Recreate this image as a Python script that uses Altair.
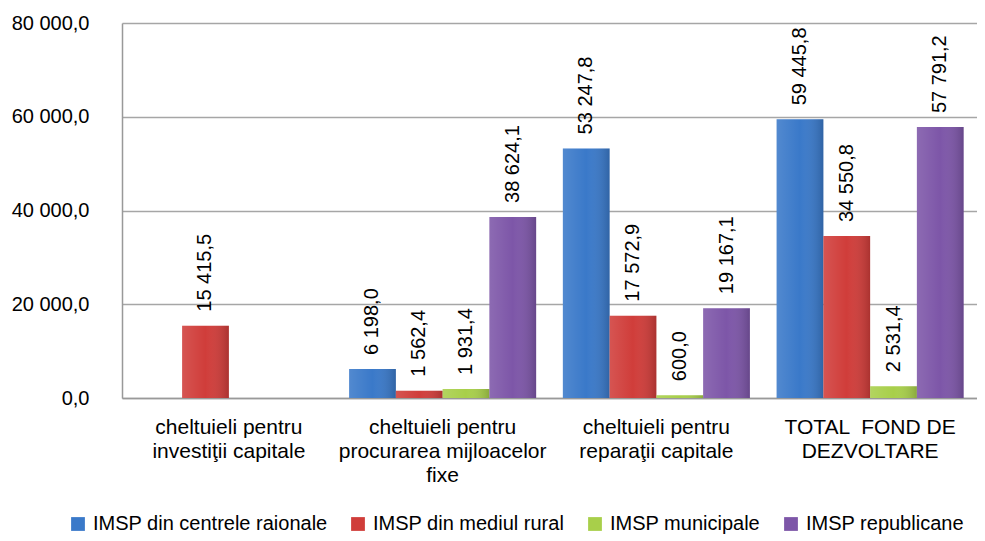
import altair as alt
import pandas as pd

categories = [
    "cheltuieli pentru|investiţii capitale",
    "cheltuieli pentru|procurarea mijloacelor|fixe",
    "cheltuieli pentru|reparaţii capitale",
    "TOTAL \u00a0FOND DE|DEZVOLTARE",
]
series = [
    "IMSP din centrele raionale",
    "IMSP din mediul rural",
    "IMSP municipale",
    "IMSP republicane",
]
centre = [0, 6198.0, 53247.8, 59445.8]
rural = [15415.5, 1562.4, 17572.9, 34550.8]
municipale = [0, 1931.4, 600.0, 2531.4]
republicane = [0, 38624.1, 19167.1, 57791.2]
colors = ["#3A79C9", "#D03D3A", "#A8CF4A", "#7D56A8"]

rows = []
for s, vals in zip(series, [centre, rural, municipale, republicane]):
    for c, v in zip(categories, vals):
        lab = f"{v:,.1f}".replace(",", " ").replace(".", ",") if v > 0 else ""
        rows.append({"cat": c, "ser": s, "val": v, "lab": lab})
df = pd.DataFrame(rows)

REG = "Liberation Sans, Arial"
NARROW = "Liberation Sans Narrow, Liberation Sans, Arial"

base = alt.Chart(df).encode(
    x=alt.X(
        "cat:N",
        sort=categories,
        title=None,
        scale=alt.Scale(paddingInner=0.125, paddingOuter=0.0625),
        axis=alt.Axis(
            labelExpr="split(datum.label, '|')",
            labelAngle=0,
            labelFont=REG,
            labelFontSize=21,
            labelLineHeight=24,
            labelPadding=18,
            labelLimit=0,
            ticks=False,
            domainColor="#999999",
            domainWidth=1.5,
            labelColor="#000000",
        ),
    ),
    xOffset=alt.XOffset("ser:N", sort=series),
)

bars = base.mark_bar().encode(
    y=alt.Y(
        "val:Q",
        title=None,
        scale=alt.Scale(domain=[0, 80000]),
        axis=alt.Axis(
            values=[0, 20000, 40000, 60000, 80000],
            labelExpr="replace(replace(format(datum.value, ',.1f'), ',', ' '), '.', ',')",
            labelFont=REG,
            labelFontSize=20,
            labelPadding=33,
            ticks=False,
            grid=True,
            gridColor="#A6A6A6",
            gridWidth=1.5,
            domainColor="#999999",
            domainWidth=1.5,
            labelColor="#000000",
        ),
    ),
    color=alt.Color(
        "ser:N",
        sort=series,
        scale=alt.Scale(domain=series, range=colors),
        legend=alt.Legend(
            orient="none",
            legendX=-54,
            legendY=491,
            direction="horizontal",
            title=None,
            symbolType="square",
            symbolSize=190,
            symbolStrokeWidth=0,
            labelFont=REG,
            labelFontSize=20,
            labelColor="#000000",
            labelLimit=0,
            labelOffset=5,
            columnPadding=20,
        ),
    ),
)

shade = base.mark_bar(
    color=alt.Gradient(
        gradient="linear",
        x1=0, x2=1, y1=0, y2=0,
        stops=[
            alt.GradientStop(color="rgba(255,255,255,0.12)", offset=0),
            alt.GradientStop(color="rgba(255,255,255,0.0)", offset=0.5),
            alt.GradientStop(color="rgba(0,0,0,0.18)", offset=1),
        ],
    )
).encode(y="val:Q")

labels = base.mark_text(
    angle=270, align="left", baseline="middle", dx=14, fontSize=20, color="#000000", font=NARROW
).encode(
    y="val:Q",
    text="lab:N",
)

chart = (
    alt.layer(bars, shade, labels)
    .properties(width=855, height=375, padding={"left": 3, "top": 5, "right": 0, "bottom": 0})
    .configure(font=REG)
    .configure_view(stroke=None)
)

chart.save("out.html", embed_options={"renderer": "svg", "actions": False})
